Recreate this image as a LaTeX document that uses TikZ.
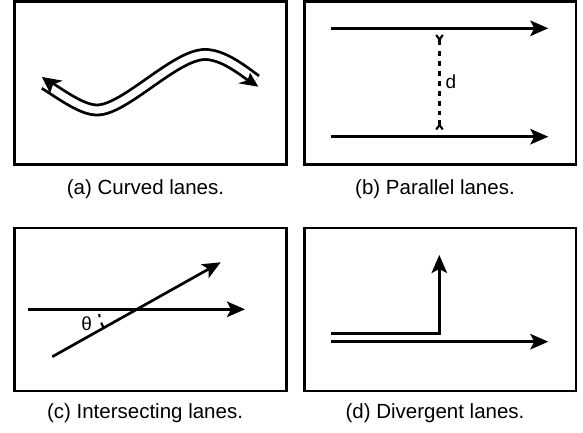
\documentclass[tikz,border=0pt]{standalone}
\usepackage{fontspec}
\setmainfont{Liberation Sans}
\usetikzlibrary{arrows.meta}
\begin{document}
\begin{tikzpicture}[x=1pt,y=-1pt,
  panel/.style={draw=black,line width=2.9pt},
  tipstyle/.tip={Stealth[length=18pt,width=15.5pt,inset=4pt]},
  lane/.style={line width=2.7pt,-tipstyle},
  twin/.style={line width=2.8pt,double=white,double distance=7.2pt},
  meas/.style={line width=2.3pt},
  arm/.style={line width=2.1pt},
  captext/.style={anchor=base,font=\fontsize{20.5}{24}\selectfont,inner sep=0pt},
  lbl/.style={anchor=base,font=\fontsize{19}{22}\selectfont,inner sep=0pt}]
\useasboundingbox (0,0) rectangle (583,433);

% panels
\draw[panel] (14.5,1.5) rectangle (286.5,164.5);
\draw[panel] (304.5,1.5) rectangle (576,164.5);
\draw[panel] (14.5,228) rectangle (286.5,391);
\draw[panel] (304.5,228) rectangle (576,391);

% captions
\node[captext] (capa) at (145.5,194.5) {(a) Curved lanes.};
\node[captext] (capb) at (435,194.5) {(b) Parallel lanes.};
\node[captext] (capc) at (145,418) {(c) Intersecting lanes.};
\node[captext] (capd) at (435,418) {(d) Divergent lanes.};

% (a) curved lanes
\coordinate (aS) at (44.5,84);
\coordinate (aE) at (256,80);
\draw[twin] (aS) .. controls (62,95) and (82,110) .. (97,110)
  .. controls (125,110) and (175,54.5) .. (205,54.5)
  .. controls (222,54.5) and (240,68) .. (aE);
\fill (42,77) -- (62.7,80.7) -- (53,84.7) -- (50,93.3) -- cycle;
\fill (258.3,86.7) -- (238.3,83.3) -- (247.6,80.1) -- (250,72.7) -- cycle;

% (b) parallel lanes
\coordinate (b1s) at (330.7,28.3);
\coordinate (b1e) at (548.3,28.3);
\coordinate (b2s) at (330.7,136.7);
\coordinate (b2e) at (548.3,136.7);
\draw[lane] (b1s) -- (b1e);
\draw[lane] (b2s) -- (b2e);
\coordinate (dT) at (439.5,39.5);
\coordinate (dB) at (439.5,125);
\draw[meas] (dT) -- (439.5,45);
\draw[meas,dash pattern=on 5pt off 5pt] (439.5,51.5) -- (439.5,115);
\draw[meas] (439.5,120) -- (dB);
\draw[arm] (436.2,35) -- (dT) -- (442.8,35);
\draw[arm] (436.2,129.5) -- (dB) -- (442.8,129.5);
\node[lbl] (dlab) at (451,88.4) {d};

% (c) intersecting lanes
\coordinate (c1s) at (28.3,309.3);
\coordinate (c1e) at (245,309.3);
\coordinate (c2s) at (52.3,356.7);
\coordinate (c2e) at (220.7,262.3);
\draw[lane] (c1s) -- (c1e);
\draw[lane] (c2s) -- (c2e);
\draw[line width=2.1pt,dash pattern=on 3.3pt off 5.5pt on 6pt off 4.7pt,dash phase=14.8pt]
  (98.8,309.3) arc[start angle=180,end angle=150.7,radius=38];
\node[lbl] (theta) at (86.7,330.7) {θ};

% (d) divergent lanes
\coordinate (d1s) at (330.7,333.3);
\coordinate (d1c) at (439.3,333.3);
\coordinate (d1e) at (439.3,255);
\coordinate (d2s) at (330.7,341.7);
\coordinate (d2e) at (548.3,341.7);
\draw[lane] (d1s) -- (d1c) -- (d1e);
\draw[lane] (d2s) -- (d2e);
\end{tikzpicture}
\end{document}
